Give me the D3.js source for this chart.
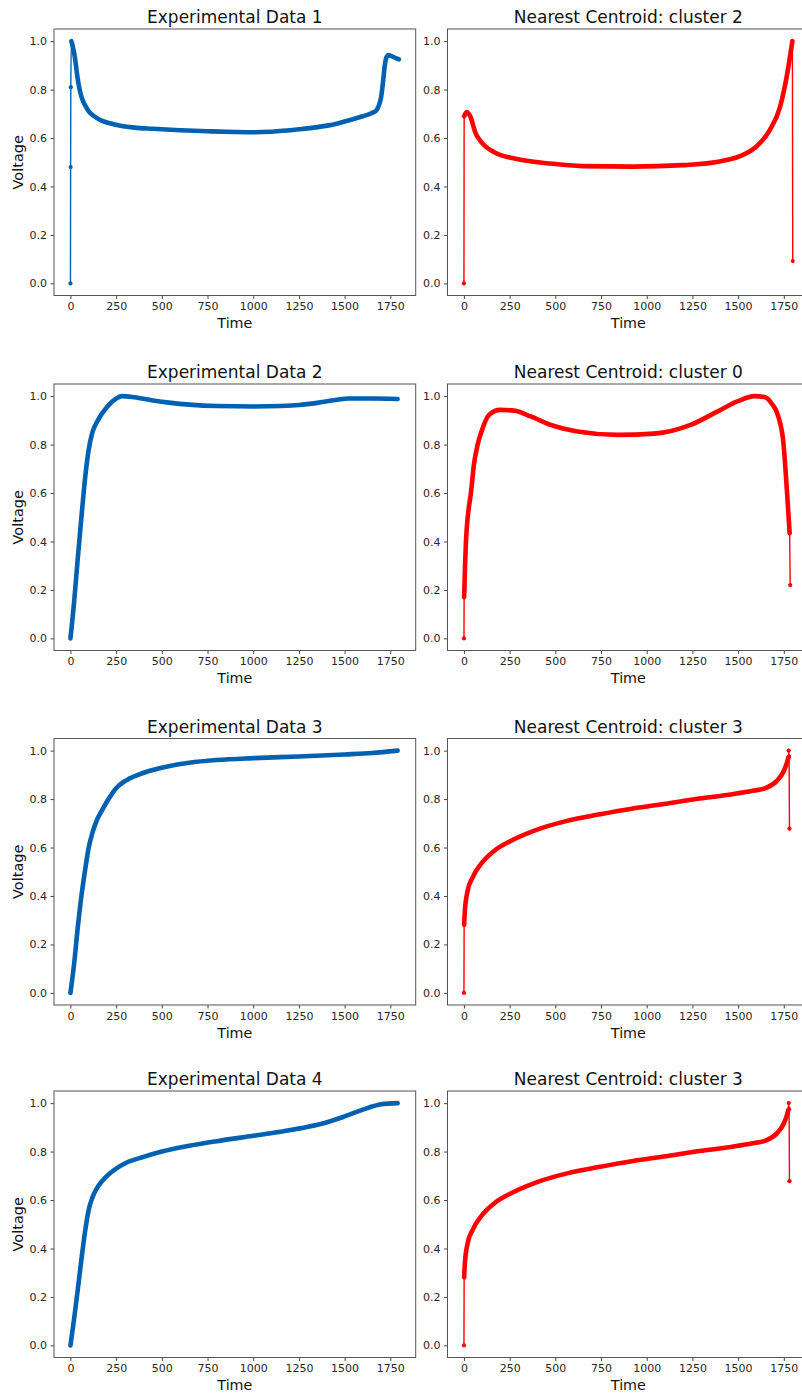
<!DOCTYPE html>
<html>
<head>
<meta charset="utf-8">
<script src="https://cdn.jsdelivr.net/npm/d3@7"></script>
<style>
  body { margin: 0; background: #fff; }
  svg { display: block; font-family: "DejaVu Sans", sans-serif; }
</style>
</head>
<body>
<svg id="chart"></svg>
<script>
// ---- data (time index, normalised voltage) ----
var exp1Time = [0, 1, 2, 5, 15, 25, 35, 45, 55, 65, 80, 100, 130, 170, 220, 280, 350, 450, 600, 750, 900, 1000, 1100, 1250, 1350, 1450, 1500, 1600, 1650, 1675, 1690, 1700, 1710, 1720, 1730, 1740, 1760, 1780, 1797];
var exp1Volt = [0, 0.48, 0.81, 1.0, 0.97, 0.93, 0.87, 0.82, 0.785, 0.76, 0.735, 0.71, 0.69, 0.672, 0.66, 0.65, 0.643, 0.638, 0.632, 0.628, 0.625, 0.624, 0.626, 0.636, 0.645, 0.658, 0.668, 0.69, 0.703, 0.715, 0.74, 0.77, 0.83, 0.9, 0.935, 0.942, 0.937, 0.93, 0.925];
var exp1Sparse = [0, 1, 2];

var exp2Time = [0, 20, 40, 60, 80, 100, 120, 150, 200, 250, 280, 350, 450, 550, 650, 800, 1000, 1150, 1250, 1350, 1450, 1520, 1650, 1790];
var exp2Volt = [0, 0.15, 0.33, 0.5, 0.66, 0.78, 0.85, 0.9, 0.955, 0.99, 1.0, 0.995, 0.982, 0.972, 0.965, 0.959, 0.957, 0.959, 0.963, 0.972, 0.984, 0.99, 0.99, 0.988];
var exp2Sparse = [];

var exp3Time = [0, 20, 40, 60, 80, 100, 120, 140, 170, 200, 250, 300, 370, 450, 550, 650, 800, 1000, 1250, 1500, 1650, 1790];
var exp3Volt = [0, 0.12, 0.27, 0.4, 0.506, 0.6, 0.66, 0.705, 0.75, 0.79, 0.845, 0.875, 0.9, 0.92, 0.938, 0.95, 0.961, 0.969, 0.976, 0.984, 0.99, 1.0];
var exp3Sparse = [];

var exp4Time = [0, 20, 40, 60, 80, 100, 120, 150, 200, 250, 300, 400, 500, 650, 800, 1000, 1150, 1300, 1400, 1500, 1600, 1700, 1790];
var exp4Volt = [0, 0.11, 0.23, 0.355, 0.47, 0.56, 0.61, 0.655, 0.7, 0.73, 0.752, 0.778, 0.8, 0.824, 0.843, 0.865, 0.882, 0.902, 0.92, 0.945, 0.973, 0.995, 1.0];
var exp4Sparse = [];

var clu2Time = [0, 1, 16, 35, 63, 99, 172, 282, 466, 649, 923, 1198, 1382, 1510, 1602, 1675, 1730, 1766, 1797, 1799];
var clu2Volt = [0, 0.69, 0.707, 0.689, 0.621, 0.58, 0.539, 0.514, 0.495, 0.484, 0.482, 0.488, 0.501, 0.525, 0.566, 0.635, 0.73, 0.854, 1.0, 0.092];
var clu2Sparse = [0, 19];

var clu0Time = [0, 1, 3, 6, 11, 16, 25, 38, 55, 75, 93, 138, 198, 275, 366, 475, 621, 840, 1040, 1240, 1386, 1496, 1590, 1645, 1682, 1720, 1748, 1768, 1782, 1785];
var clu0Volt = [0, 0.17, 0.22, 0.3, 0.4, 0.46, 0.53, 0.6, 0.72, 0.8, 0.847, 0.923, 0.943, 0.94, 0.916, 0.881, 0.854, 0.84, 0.845, 0.881, 0.936, 0.978, 1.0, 0.996, 0.971, 0.916, 0.806, 0.599, 0.434, 0.22];
var clu0Sparse = [0, 29];

var clu3Time = [0, 1, 5, 20, 47, 92, 165, 255, 382, 564, 745, 926, 1107, 1288, 1469, 1580, 1656, 1712, 1750, 1769, 1775, 1777, 1779, 1781];
var clu3Volt = [0, 0.281, 0.338, 0.421, 0.476, 0.531, 0.586, 0.627, 0.669, 0.71, 0.737, 0.761, 0.781, 0.802, 0.82, 0.834, 0.847, 0.875, 0.916, 0.955, 0.972, 1.0, 0.975, 0.678];
var clu3Sparse = [0, 21, 22, 23];

var titles = ['Experimental Data 1', 'Nearest Centroid: cluster 2',
              'Experimental Data 2', 'Nearest Centroid: cluster 0',
              'Experimental Data 3', 'Nearest Centroid: cluster 3',
              'Experimental Data 4', 'Nearest Centroid: cluster 3'];
var xTicks = [0, 250, 500, 750, 1000, 1250, 1500, 1750];
var yTicks = [0, 0.2, 0.4, 0.6, 0.8, 1.0];

var seriesList = [
    [exp1Time, exp1Volt, exp1Sparse], [clu2Time, clu2Volt, clu2Sparse],
    [exp2Time, exp2Volt, exp2Sparse], [clu0Time, clu0Volt, clu0Sparse],
    [exp3Time, exp3Volt, exp3Sparse], [clu3Time, clu3Volt, clu3Sparse],
    [exp4Time, exp4Volt, exp4Sparse], [clu3Time, clu3Volt, clu3Sparse]
];

// ---- layout ----
var width = 802, height = 1393;
var boxW = 361.7, boxH = 266.5;
var colX = [54, 447.5];
var rowY = [29, 384, 738.5, 1091];
var colors = ['#0061b0', '#ff0000'];

var svg = d3.select('#chart').attr('width', width).attr('height', height);
svg.append('rect').attr('width', width).attr('height', height).attr('fill', '#fff');

// matplotlib default 5% margins on both axes
var xScale = d3.scaleLinear().domain([-90, 1889]).range([0, boxW]);
var yScale = d3.scaleLinear().domain([-0.05, 1.05]).range([boxH, 0]);

seriesList.forEach(function (s, i) {
    var col = i % 2, row = Math.floor(i / 2);
    var color = colors[col];
    var pts = s[0].map(function (t, k) { return { t: t, v: s[1][k], k: k }; });
    var sparse = s[2];

    var g = svg.append('g')
        .attr('transform', 'translate(' + colX[col] + ',' + rowY[row] + ')');

    var clipId = 'clip' + i;
    g.append('clipPath').attr('id', clipId)
        .append('rect').attr('width', boxW).attr('height', boxH);

    var plot = g.append('g').attr('clip-path', 'url(#' + clipId + ')');

    var line = d3.line()
        .x(function (d) { return xScale(d.t); })
        .y(function (d) { return yScale(d.v); })
        .curve(d3.curveMonotoneX);

    // thin connector through every sample
    plot.append('path')
        .attr('d', line(pts))
        .attr('fill', 'none')
        .attr('stroke', color)
        .attr('stroke-width', 1.4);

    // dense run of markers looks like a thick band
    var dense = pts.filter(function (d) { return sparse.indexOf(d.k) < 0; });
    plot.append('path')
        .attr('d', line(dense))
        .attr('fill', 'none')
        .attr('stroke', color)
        .attr('stroke-width', 4.6)
        .attr('stroke-linecap', 'round')
        .attr('stroke-linejoin', 'round');

    // stand-alone markers
    plot.selectAll('circle')
        .data(pts.filter(function (d) { return sparse.indexOf(d.k) >= 0; }))
        .enter().append('circle')
        .attr('cx', function (d) { return xScale(d.t); })
        .attr('cy', function (d) { return yScale(d.v); })
        .attr('r', 2.1)
        .attr('fill', color);

    // axes
    var xAxis = g.append('g')
        .attr('transform', 'translate(0,' + boxH + ')')
        .call(d3.axisBottom(xScale).tickValues(xTicks).tickSize(3.5).tickPadding(3.5).tickFormat(d3.format('d')));
    var yAxis = g.append('g')
        .call(d3.axisLeft(yScale).tickValues(yTicks).tickSize(3.5).tickPadding(3.5).tickFormat(d3.format('.1f')));
    [xAxis, yAxis].forEach(function (a) {
        a.select('.domain').remove();
        a.selectAll('.tick line').attr('stroke', '#333').attr('stroke-width', 0.9);
        a.selectAll('.tick text').attr('fill', '#262626')
            .style('font-size', '11px').style('font-family', '"DejaVu Sans", sans-serif');
    });

    // frame
    g.append('rect')
        .attr('width', boxW).attr('height', boxH)
        .attr('fill', 'none')
        .attr('stroke', '#555')
        .attr('stroke-width', 1);

    // title
    g.append('text')
        .attr('x', boxW / 2).attr('y', -6)
        .attr('text-anchor', 'middle')
        .attr('fill', '#111')
        .style('font-size', '17px')
        .text(titles[i]);

    // x label
    g.append('text')
        .attr('x', boxW / 2).attr('y', boxH + 32.5)
        .attr('text-anchor', 'middle')
        .attr('fill', '#111')
        .style('font-size', '14.3px')
        .text('Time');

    // y label only on the left column
    if (col === 0) {
        g.append('text')
            .attr('transform', 'translate(' + (22.5 - colX[0]) + ',' + (boxH / 2) + ') rotate(-90)')
            .attr('text-anchor', 'middle')
            .attr('fill', '#111')
            .style('font-size', '14.5px')
            .text('Voltage');
    }
});
</script>
</body>
</html>
